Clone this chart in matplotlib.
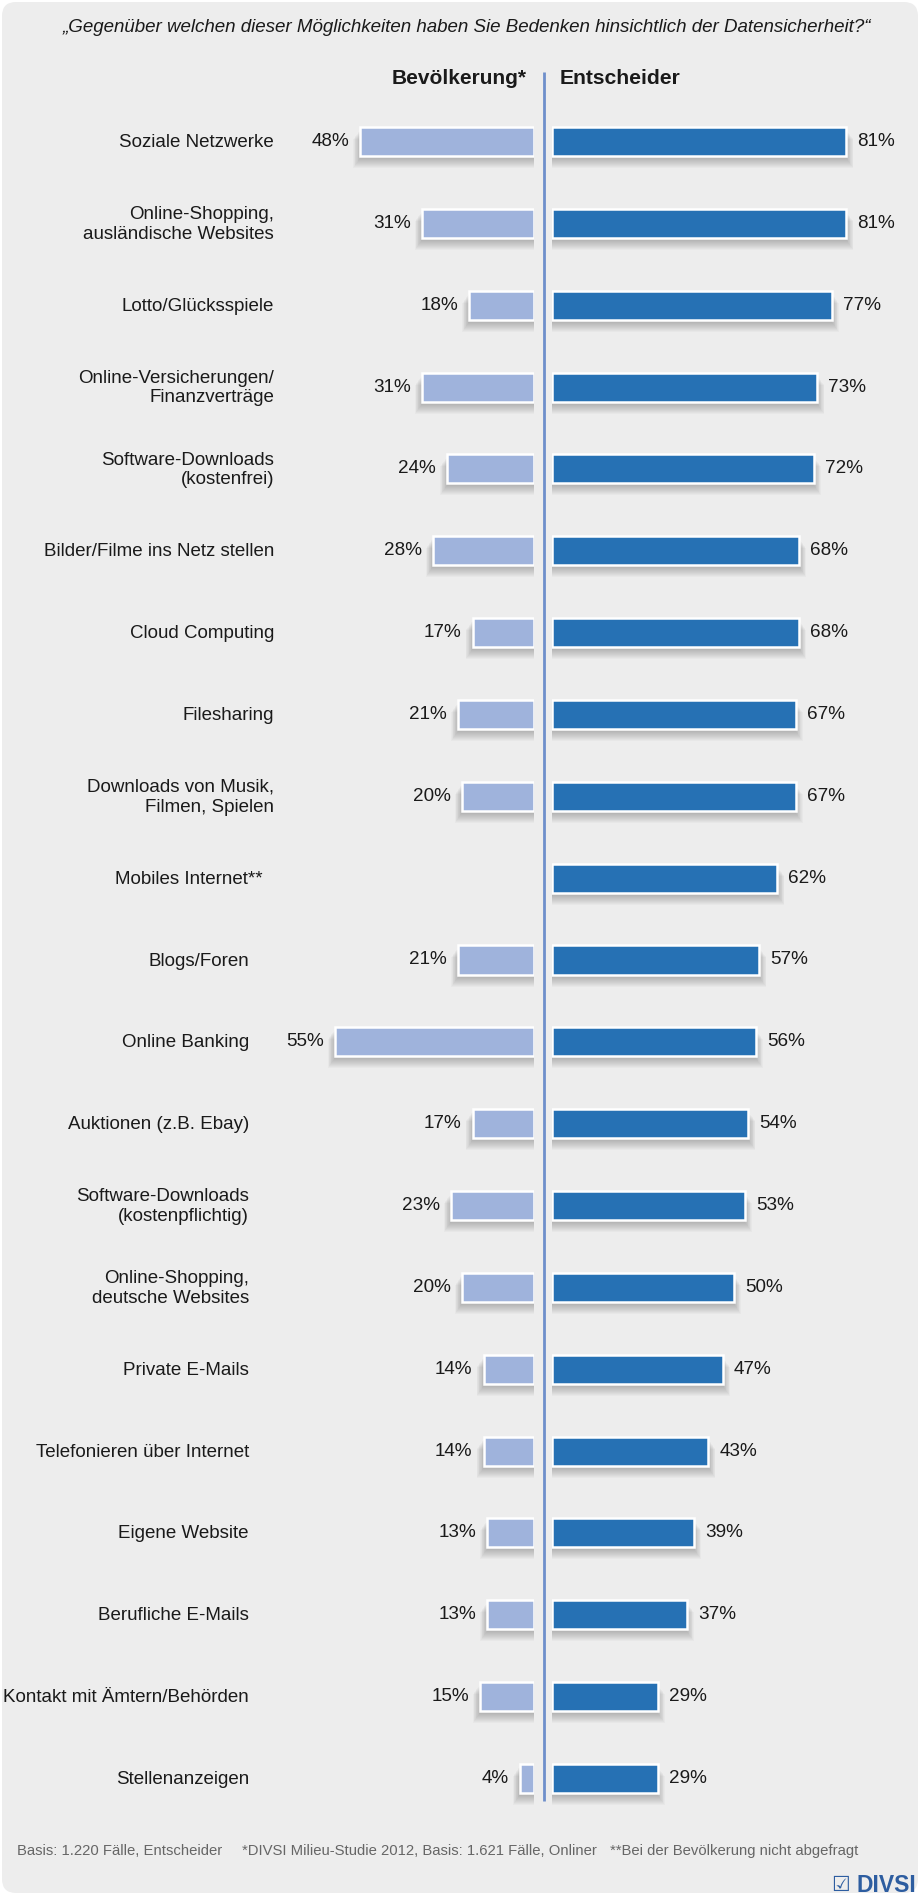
import matplotlib
matplotlib.use("Agg")
import matplotlib.pyplot as plt
from matplotlib.patches import FancyBboxPatch
import numpy as np

# --- data -------------------------------------------------------------
categories = [
    "Soziale Netzwerke",
    "Online-Shopping,\nausländische Websites",
    "Lotto/Glücksspiele",
    "Online-Versicherungen/\nFinanzverträge",
    "Software-Downloads\n(kostenfrei)",
    "Bilder/Filme ins Netz stellen",
    "Cloud Computing",
    "Filesharing",
    "Downloads von Musik,\nFilmen, Spielen",
    "Mobiles Internet**",
    "Blogs/Foren",
    "Online Banking",
    "Auktionen (z.B. Ebay)",
    "Software-Downloads\n(kostenpflichtig)",
    "Online-Shopping,\ndeutsche Websites",
    "Private E-Mails",
    "Telefonieren über Internet",
    "Eigene Website",
    "Berufliche E-Mails",
    "Kontakt mit Ämtern/Behörden",
    "Stellenanzeigen",
]
bevoelkerung = [48, 31, 18, 31, 24, 28, 17, 21, 20, None, 21, 55, 17, 23, 20, 14, 14, 13, 13, 15, 4]
entscheider = [81, 81, 77, 73, 72, 68, 68, 67, 67, 62, 57, 56, 54, 53, 50, 47, 43, 39, 37, 29, 29]

title = "„Gegenüber welchen dieser Möglichkeiten haben Sie Bedenken hinsichtlich der Datensicherheit?“"
footnotes = ["Basis: 1.220 Fälle, Entscheider",
             "*DIVSI Milieu-Studie 2012, Basis: 1.621 Fälle, Onliner",
             "**Bei der Bevölkerung nicht abgefragt"]

# --- layout -----------------------------------------------------------
W, H = 920, 1895
C_LIGHT = "#9fb3dc"
C_DARK = "#2671b4"
C_LINE = "#6f8fcb"
BG = "#ededed"
TXT = "#1a1a1a"

plt.rcParams["font.family"] = ["Liberation Sans", "DejaVu Sans"]

fig = plt.figure(figsize=(W / 100, H / 100), dpi=100)
fig.patch.set_facecolor("white")


def fbox(x0, y0, x1, y1):
    # pixel box (top-left origin) -> figure fraction rect
    return [x0 / W, 1 - y1 / H, (x1 - x0) / W, (y1 - y0) / H]


bg = fig.add_axes([0, 0, 1, 1])
bg.set_xlim(0, W)
bg.set_ylim(H, 0)
bg.axis("off")
bg.add_patch(FancyBboxPatch((2, 2), W - 4, H - 4, boxstyle="round,pad=0,rounding_size=14",
                            fc=BG, ec="none"))

ppp = 3.627           # pixels per percent
row0, step = 141.5, 81.85
n = len(categories)
top = row0 - step / 2
bot = row0 + step * (n - 0.5)
right_x0 = 552.5
left_x1 = 534.4

axL = fig.add_axes(fbox(left_x1 - 100 * ppp, top, left_x1, bot))
axR = fig.add_axes(fbox(right_x0, top, right_x0 + 100 * ppp, bot))
for ax in (axL, axR):
    ax.set_ylim(n - 0.5, -0.5)
    ax.axis("off")
    ax.patch.set_alpha(0)
axL.set_xlim(100, 0)
axR.set_xlim(0, 100)

y = np.arange(n)
bh = 0.355
bev = np.array([np.nan if v is None else v for v in bevoelkerung], dtype=float)
ent = np.array(entscheider, dtype=float)


def draw(ax, vals, color, sign):
    # soft drop shadow, built from stacked translucent bars
    for k in range(1, 11):
        ax.barh(y + (2 + k) / step, vals + k * 0.7 / ppp, height=bh, left=0,
                color="black", alpha=0.022, lw=0, zorder=1)
    ax.barh(y, vals, height=bh, color=color, edgecolor="white", lw=1.8, zorder=3)
    for yi, v in zip(y, vals):
        if np.isnan(v):
            continue
        ax.annotate(f"{int(v)}%", (v, yi), xytext=(8 * sign, 0), textcoords="offset points",
                    ha="left" if sign > 0 else "right", va="center",
                    fontsize=13.6, color=TXT, zorder=4)


draw(axL, bev, C_LIGHT, -1)
draw(axR, ent, C_DARK, 1)

# category labels
label_x = [274] * 9 + [263] + [249] * 11
for i, (lab, lx) in enumerate(zip(categories, label_x)):
    bg.text(lx, row0 + i * step + 1, lab, ha="right", va="center", multialignment="right",
            fontsize=13.5, color=TXT, linespacing=1.2)

# centre line
bg.plot([544, 544], [72, 1801], color=C_LINE, lw=2, solid_capstyle="butt")

# header and title
bg.text(527, 79, "Bevölkerung*", ha="right", va="center", fontsize=15, fontweight="bold",
        color=TXT)
bg.text(560, 79, "Entscheider", ha="left", va="center", fontsize=15.2, fontweight="bold",
        color=TXT)
bg.text(467, 27, title, ha="center", va="center", fontsize=13.5, style="italic", color=TXT)

# footer
for fx, t in zip([17, 242, 610], footnotes):
    bg.text(fx, 1851, t, ha="left", va="center", fontsize=10.7, color="#666666")

# logo
bg.text(916, 1885, "DIVSI", ha="right", va="center", fontsize=16.5, fontweight="bold",
        color="#2d5da0")
bg.text(850, 1885, "☑", ha="right", va="center", fontsize=15, color="#2d5da0",
        family="DejaVu Sans")

fig.savefig("out.png", dpi=100, facecolor=fig.get_facecolor())
